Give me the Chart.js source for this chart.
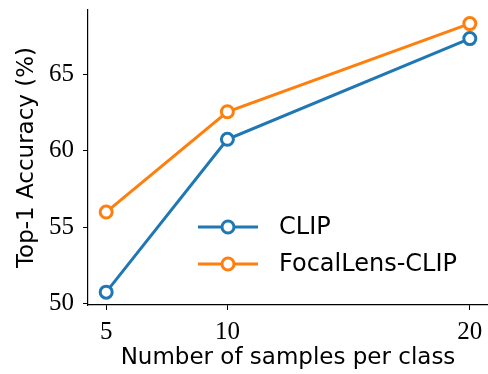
<!DOCTYPE html>
<html>
<head>
<meta charset="utf-8">
<script src="https://cdn.jsdelivr.net/npm/chart.js@4"></script>
<style>
  html, body { margin: 0; padding: 0; background: #fff; }
  #wrap { width: 488px; height: 374px; }
</style>
</head>
<body>
<div id="wrap"><canvas id="accChart" width="488" height="374"></canvas></div>
<script>
// samples per class and top-1 accuracy (%)
const samples = [5, 10, 20];
const clipAcc = [50.74, 60.74, 67.33];
const focalAcc = [55.98, 62.54, 68.31];
const seriesNames = ['CLIP', 'FocalLens-CLIP'];
const xTicks = [5, 10, 20];
const yTicks = [50, 55, 60, 65];

const BLUE = '#1f77b4';
const ORANGE = '#ff7f0e';
const SANS = '"DejaVu Sans", sans-serif';
const SERIF = '"Liberation Serif", serif';

// legend drawn inside the plot, lines with a hollow marker in the middle
const innerLegend = {
    id: 'innerLegend',
    afterDatasetsDraw(chart) {
        const c = chart.ctx;
        const area = chart.chartArea;
        const x0 = area.left + 110;
        let y = area.top + 217;
        chart.data.datasets.forEach(ds => {
            c.save();
            c.strokeStyle = ds.borderColor;
            c.lineWidth = 3;
            c.beginPath();
            c.moveTo(x0, y);
            c.lineTo(x0 + 60, y);
            c.stroke();
            c.beginPath();
            c.arc(x0 + 30, y, 6, 0, Math.PI * 2);
            c.fillStyle = '#fff';
            c.fill();
            c.stroke();
            c.fillStyle = '#000';
            c.font = '24px ' + SANS;
            c.textBaseline = 'middle';
            c.fillText(ds.label, x0 + 81, y + 1);
            c.restore();
            y += 37;
        });
    }
};

new Chart(document.getElementById('accChart'), {
    type: 'line',
    data: {
        datasets: [
            {
                label: seriesNames[0],
                data: samples.map((s, i) => ({ x: s, y: clipAcc[i] })),
                borderColor: BLUE,
                backgroundColor: '#fff',
                borderWidth: 3,
                pointRadius: 6,
                pointBorderWidth: 3,
                pointBackgroundColor: '#fff',
                pointBorderColor: BLUE,
                clip: false
            },
            {
                label: seriesNames[1],
                data: samples.map((s, i) => ({ x: s, y: focalAcc[i] })),
                borderColor: ORANGE,
                backgroundColor: '#fff',
                borderWidth: 3,
                pointRadius: 6,
                pointBorderWidth: 3,
                pointBackgroundColor: '#fff',
                pointBorderColor: ORANGE,
                clip: false
            }
        ]
    },
    options: {
        responsive: false,
        animation: false,
        layout: { autoPadding: false, padding: { top: 10, right: 0, left: 0, bottom: 0 } },
        plugins: {
            legend: { display: false },
            tooltip: { enabled: false }
        },
        scales: {
            x: {
                type: 'linear',
                min: 4.25,
                max: 20.75,
                afterBuildTicks: s => { s.ticks = xTicks.map(v => ({ value: v })); },
                afterFit: s => { s.height = 69; s.paddingLeft = 0; s.paddingRight = 0; },
                grid: { display: true, drawOnChartArea: false, drawTicks: true, tickLength: 5, color: '#000', lineWidth: 1 },
                border: { display: true, color: '#000', width: 1.2 },
                ticks: { color: '#000', font: { family: SERIF, size: 25 }, padding: 7, maxRotation: 0 },
                title: { display: true, text: 'Number of samples per class', color: '#000', font: { family: SANS, size: 23 }, padding: { top: 0, bottom: 2 } }
            },
            y: {
                type: 'linear',
                min: 49.9,
                max: 69.2,
                afterBuildTicks: s => { s.ticks = yTicks.map(v => ({ value: v })); },
                afterFit: s => { s.width = 88; s.paddingTop = 0; s.paddingBottom = 0; },
                grid: { display: true, drawOnChartArea: false, drawTicks: true, tickLength: 5, color: '#000', lineWidth: 1 },
                border: { display: true, color: '#000', width: 1.2 },
                ticks: { color: '#000', font: { family: SERIF, size: 25 }, padding: 9 },
                title: { display: true, text: 'Top-1 Accuracy (%)', color: '#000', font: { family: SANS, size: 23 }, padding: { top: 13, bottom: 0 } }
            }
        }
    },
    plugins: [innerLegend]
});
</script>
</body>
</html>
